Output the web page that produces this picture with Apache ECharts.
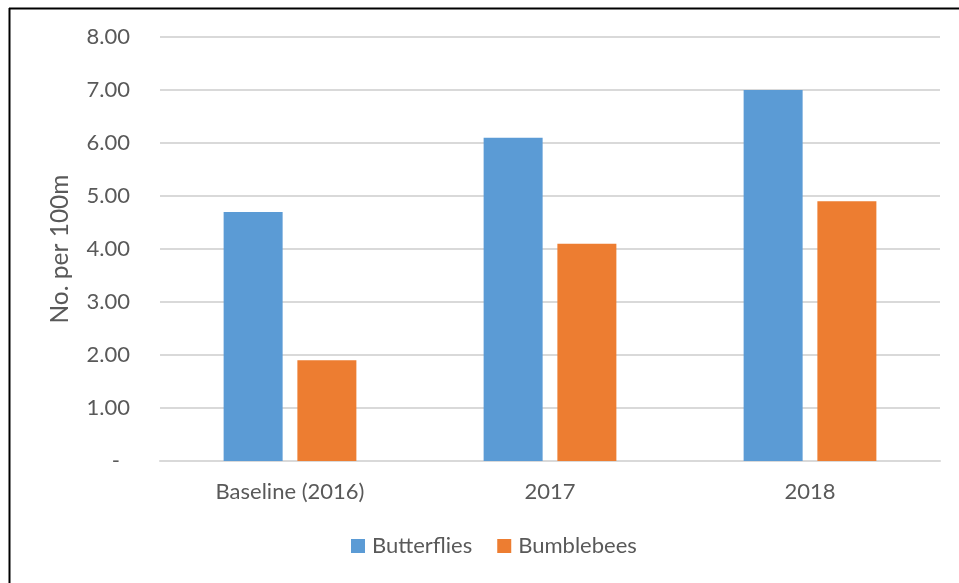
<!DOCTYPE html>
<html>
<head>
<meta charset="utf-8">
<script src="https://cdn.jsdelivr.net/npm/echarts@6/dist/echarts.min.js"></script>
<style>
  html, body { margin: 0; padding: 0; background: #ffffff; }
  #chart { width: 959px; height: 583px; }
</style>
</head>
<body>
<div id="chart"></div>
<script>
// Survey counts per 100 m of transect
const categories = ['Baseline (2016)', '2017', '2018'];
const butterflies = [4.7, 6.1, 7.0];
const bumblebees = [1.9, 4.1, 4.9];
const seriesNames = ['Butterflies', 'Bumblebees'];
const yAxisTitle = 'No. per 100m';

const TEXT = '#595959';
const FONT = 'Lato';
const FS = 22;

const chart = echarts.init(document.getElementById('chart'), null, { renderer: 'canvas' });

chart.setOption({
  animation: false,
  backgroundColor: '#ffffff',
  textStyle: { fontFamily: FONT },
  graphic: [
    // frame edges
    { type: 'line', shape: { x1: 9.5, y1: 8, x2: 9.5, y2: 583 }, style: { stroke: '#000', lineWidth: 2 } },
    { type: 'line', shape: { x1: 9, y1: 8.5, x2: 959, y2: 8.5 }, style: { stroke: '#000', lineWidth: 2 } }
  ],
  grid: { left: 160, right: 19, top: 37, bottom: 122, containLabel: false },
  legend: {
    data: seriesNames,
    bottom: 21,
    left: 346,
    itemWidth: 14,
    itemHeight: 14,
    itemGap: 25,
    icon: 'rect',
    textStyle: { color: TEXT, fontSize: FS, fontFamily: FONT, padding: [0, 0, 0, 2] }
  },
  xAxis: {
    type: 'category',
    data: categories,
    axisTick: { show: false },
    axisLine: { lineStyle: { color: '#d9d9d9', width: 2 } },
    axisLabel: { color: TEXT, fontSize: FS, fontFamily: FONT, margin: 20 }
  },
  yAxis: {
    type: 'value',
    min: 0,
    max: 8,
    interval: 1,
    name: yAxisTitle,
    nameLocation: 'middle',
    nameGap: 87,
    nameRotate: 90,
    nameTextStyle: { color: TEXT, fontSize: 24.5, fontFamily: FONT },
    axisLine: { show: false },
    axisTick: { show: false },
    splitLine: { lineStyle: { color: '#d9d9d9', width: 2 } },
    axisLabel: {
      color: TEXT,
      fontSize: FS,
      fontFamily: FONT,
      margin: 30,
      formatter: v => v === 0 ? '{d|-}' : v.toFixed(2),
      rich: { d: { color: TEXT, fontSize: FS, fontFamily: FONT, padding: [0, 10, 0, 0] } }
    }
  },
  series: [
    {
      name: seriesNames[0],
      type: 'bar',
      data: butterflies,
      barWidth: 59,
      barGap: '25%',
      itemStyle: { color: '#5B9BD5' }
    },
    {
      name: seriesNames[1],
      type: 'bar',
      data: bumblebees,
      barWidth: 59,
      barGap: '25%',
      itemStyle: { color: '#ED7D31' }
    }
  ]
});
</script>
</body>
</html>
